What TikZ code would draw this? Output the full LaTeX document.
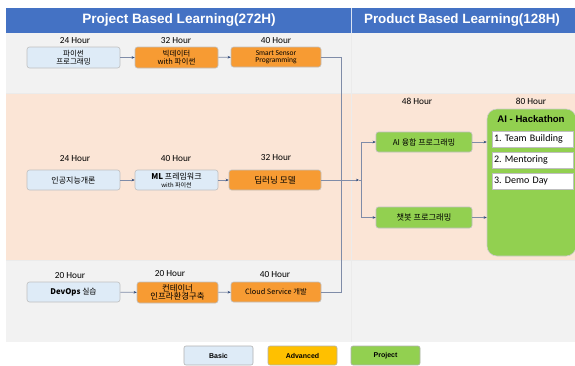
\documentclass[tikz,border=0pt]{standalone}
\usepackage{fontspec}
\setmainfont{Carlito}
\newfontfamily\kr{Noto Sans CJK KR}
\newfontfamily\hd{Liberation Sans}
\usetikzlibrary{arrows.meta}
\frenchspacing
\definecolor{hdblue}{HTML}{4472C4}
\definecolor{rowgray}{HTML}{F2F2F2}
\definecolor{rowpeach}{HTML}{FBE5D6}
\definecolor{basicc}{HTML}{DEEBF7}
\definecolor{advc}{HTML}{F79B33}
\definecolor{legadv}{HTML}{FFC000}
\definecolor{projc}{HTML}{92D050}
\definecolor{connc}{HTML}{7F8CA8}
\definecolor{tipc}{HTML}{2F4A7A}
\newcommand{\fs}[1]{\fontsize{#1}{#1}\selectfont}
\begin{document}
\begin{tikzpicture}[x=1pt,y=-1pt,
  box/.style={draw=black!25,line width=0.6pt,rounded corners=2.5pt,inner sep=0pt,align=center,font=\kr\fs{7.5}},
  basicbox/.style={box,fill=basicc},
  advbox/.style={box,fill=advc},
  projbox/.style={box,fill=projc},
  hour/.style={font=\fs{9.3},inner sep=0pt},
  itembox/.style={draw=black!25,fill=white,line width=0.5pt,minimum width=81pt,minimum height=16pt,inner sep=0pt,text width=77pt,align=left,anchor=center,font=\frenchspacing\fs{10}},
  conn/.style={draw=connc,line width=0.7pt},
  arr/.style={conn,-{Stealth[length=3pt,width=2.6pt,color=tipc]}},
  leg/.style={draw=black!30,line width=0.6pt,rounded corners=2pt,minimum width=69pt,minimum height=19pt,inner sep=0pt,font=\hd\bfseries\fs{7}}
]
\useasboundingbox (0,0) rectangle (575,365);
% backgrounds
\fill[white] (0,0) rectangle (575,365);
\fill[rowgray] (6,33) rectangle (575,93);
\fill[rowpeach] (6,93) rectangle (575,260);
\fill[rowgray] (6,260) rectangle (575,342);
\draw[black!8,line width=0.8pt] (351,33) -- (351,342);
\draw[black!8,line width=0.6pt] (6,93) -- (575,93) (6,260) -- (575,260);
\fill[hdblue] (6,8) rectangle (575,33);
\draw[white!80!hdblue,line width=0.8pt] (351,8) -- (351,33);
\node[font=\hd\bfseries\fs{13.6},text=white] (h1) at (179,20.5) {Project Based Learning(272H)};
\node[font=\hd\bfseries\fs{13.4},text=white] (h2) at (462,20.5) {Product Based Learning(128H)};

% row 1
\node[hour] (t11) at (75,41) {24 Hour};
\node[hour] (t12) at (176,41) {32 Hour};
\node[hour] (t13) at (276,41) {40 Hour};
\node[basicbox,minimum width=93pt,minimum height=21pt] (a1) at (73.5,57.5) {파이썬\\프로그래밍};
\node[advbox,minimum width=83pt,minimum height=21pt] (a2) at (176.5,57.5) {빅데이터\\with 파이썬};
\node[advbox,minimum width=90pt,minimum height=20pt,font=\fs{7.5}] (a3) at (276,57) {Smart Sensor\\Programming};

% row 2
\node[hour] (t21) at (75,159) {24 Hour};
\node[hour] (t22) at (176,159) {40 Hour};
\node[hour] (t23) at (276,158) {32 Hour};
\node[basicbox,minimum width=93pt,minimum height=20pt,font=\kr\fs{8}] (b1) at (73.5,180) {인공지능개론};
\node[basicbox,minimum width=83pt,minimum height=20pt,font=\kr\fs{8}] (b2) at (176.5,180) {{\bfseries ML} 프레임워크\\{\fs{6}with 파이썬}};
\node[advbox,minimum width=92pt,minimum height=20pt,font=\kr\fs{8.6}] (b3) at (275,180) {딥러닝 모델};

% row 3
\node[hour] (t31) at (70,276) {20 Hour};
\node[hour] (t32) at (170,274) {20 Hour};
\node[hour] (t33) at (275,275) {40 Hour};
\node[basicbox,minimum width=93pt,minimum height=20pt,font=\kr\fs{7.8}] (c1) at (73.5,292) {{\bfseries DevOps} 실습};
\node[advbox,minimum width=81pt,minimum height=21pt,font=\kr\fs{8.4}] (c2) at (177.5,292.5) {컨테이너\\인프라환경구축};
\node[advbox,minimum width=90pt,minimum height=20pt,font=\kr\fs{7.3}] (c3) at (276,292) {Cloud Service 개발};

% right column
\node[hour] (t41) at (417,101) {48 Hour};
\node[hour] (t42) at (531,101) {80 Hour};
\node[projbox,minimum width=96pt,minimum height=20pt,font=\kr\fs{8}] (p1) at (424,142) {AI 융합 프로그래밍};
\node[projbox,minimum width=96pt,minimum height=21pt,font=\kr\fs{8.2}] (p2) at (424,217.5) {챗봇 프로그래밍};
\node[draw=black!20,fill=projc,line width=0.6pt,rounded corners=10pt,minimum width=89pt,minimum height=147pt,inner sep=0pt] (hk) at (531.5,182.5) {};
\node[font=\hd\bfseries\fs{9.6}] (hkt) at (531,119) {AI - Hackathon};
\node[itembox] (i1) at (532.5,139) {1. Team Building};
\node[itembox] (i2) at (532.5,160) {2. Mentoring};
\node[itembox] (i3) at (532.5,181) {3. Demo Day};

% connectors
\draw[arr] (a1) -- (a2);
\draw[arr] (a2) -- (a3);
\draw[arr] (b1) -- (b2);
\draw[arr] (b2) -- (b3);
\draw[arr] (c1) -- (c2);
\draw[arr] (c2) -- (c3);
\coordinate (m) at (341.5,180);
\coordinate (j) at (359,180);
\coordinate (s) at (361.5,180);
\draw[conn] (a3.east) -| (m);
\draw[conn] (c3.east) -| (m);
\draw[arr] (b3.east) -- (j);
\draw[conn] (j) -- (s);
\draw[arr] (s) |- (p1.west);
\draw[arr] (s) |- (p2.west);
\draw[arr] (p1.east) -- (p1.east -| hk.west);
\draw[arr] (p2.east) -- (p2.east -| hk.west);

% legend
\node[leg,fill=basicc] (l1) at (218.5,355.5) {Basic};
\node[leg,fill=legadv] (l2) at (302.5,355.5) {Advanced};
\node[leg,fill=projc] (l3) at (385.5,355.5) {Project};
\end{tikzpicture}
\end{document}
